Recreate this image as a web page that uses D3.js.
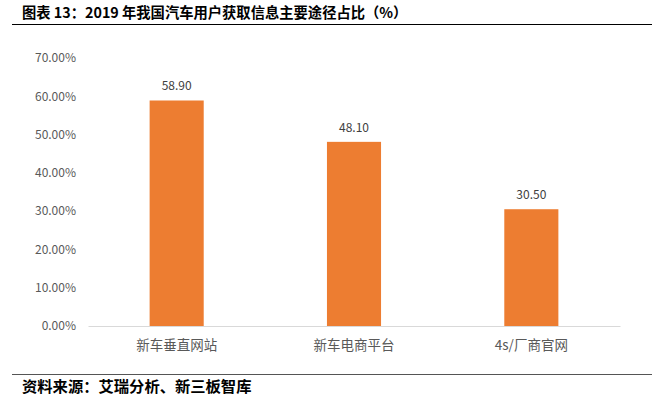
<!DOCTYPE html>
<html>
<head>
<meta charset="utf-8">
<script src="https://cdn.jsdelivr.net/npm/d3@7"></script>
<style>
  body { margin: 0; background: #fff; }
  svg { display: block; }
</style>
</head>
<body>
<svg id="chart" width="660" height="399"></svg>
<script>
// data
var categories = ["新车垂直网站", "新车电商平台", "4s/厂商官网"];
var shares = [58.90, 48.10, 30.50];
var yTicks = [0, 10, 20, 30, 40, 50, 60, 70];

var titleText = "图表 13：2019 年我国汽车用户获取信息主要途径占比（%）";
var sourceText = "资料来源：艾瑞分析、新三板智库";

var svg = d3.select("#chart");
var cjk = "'Noto Sans CJK SC', 'Noto Sans', sans-serif";

// header / footer
svg.append("text")
    .attr("x", 22).attr("y", 18)
    .attr("font-family", "'Noto Sans CJK SC', serif")
    .attr("font-weight", "bold")
    .attr("font-size", 14.3)
    .attr("fill", "#000")
    .text(titleText);
svg.append("line")
    .attr("x1", 12).attr("x2", 652).attr("y1", 24.5).attr("y2", 24.5)
    .attr("stroke", "#000").attr("stroke-width", 1.2);
svg.append("line")
    .attr("x1", 12).attr("x2", 652).attr("y1", 374.5).attr("y2", 374.5)
    .attr("stroke", "#555").attr("stroke-width", 1);
svg.append("text")
    .attr("x", 22).attr("y", 392)
    .attr("font-family", "'Noto Sans CJK SC', serif")
    .attr("font-weight", "bold")
    .attr("font-size", 15.3)
    .attr("fill", "#000")
    .text(sourceText);

// scales
var x = d3.scaleBand().domain(categories).range([88, 620]).paddingInner(0.695).paddingOuter(0.3475);
var y = d3.scaleLinear().domain([0, 70]).range([326, 58]);

// y axis labels only
var yAxis = d3.axisLeft(y).tickValues(yTicks).tickSize(0).tickPadding(11)
    .tickFormat(function(d) { return d.toFixed(2) + "%"; });
var gy = svg.append("g").attr("transform", "translate(87,0)").call(yAxis);
gy.select(".domain").remove();
gy.selectAll("text")
    .attr("font-family", cjk)
    .attr("font-size", 12)
    .attr("fill", "#595959");

// bars
svg.append("g").selectAll("rect")
    .data(shares)
    .join("rect")
    .attr("x", function(d, i) { return x(categories[i]); })
    .attr("y", function(d) { return y(d); })
    .attr("width", x.bandwidth())
    .attr("height", function(d) { return y(0) - y(d); })
    .attr("fill", "#ed7d31");

// value labels
svg.append("g").selectAll("text")
    .data(shares)
    .join("text")
    .attr("x", function(d, i) { return x(categories[i]) + x.bandwidth() / 2; })
    .attr("y", function(d) { return y(d) - 10; })
    .attr("text-anchor", "middle")
    .attr("font-family", cjk)
    .attr("font-size", 12)
    .attr("fill", "#404040")
    .text(function(d) { return d.toFixed(2); });

// x axis
var xAxis = d3.axisBottom(x).tickSize(0).tickPadding(14);
var gx = svg.append("g").attr("transform", "translate(0," + y(0) + ")").call(xAxis);
gx.select(".domain").attr("stroke", "#d9d9d9").attr("stroke-width", 1);
gx.selectAll("text")
    .attr("font-family", cjk)
    .attr("font-size", 13.5)
    .attr("fill", "#595959");
</script>
</body>
</html>
